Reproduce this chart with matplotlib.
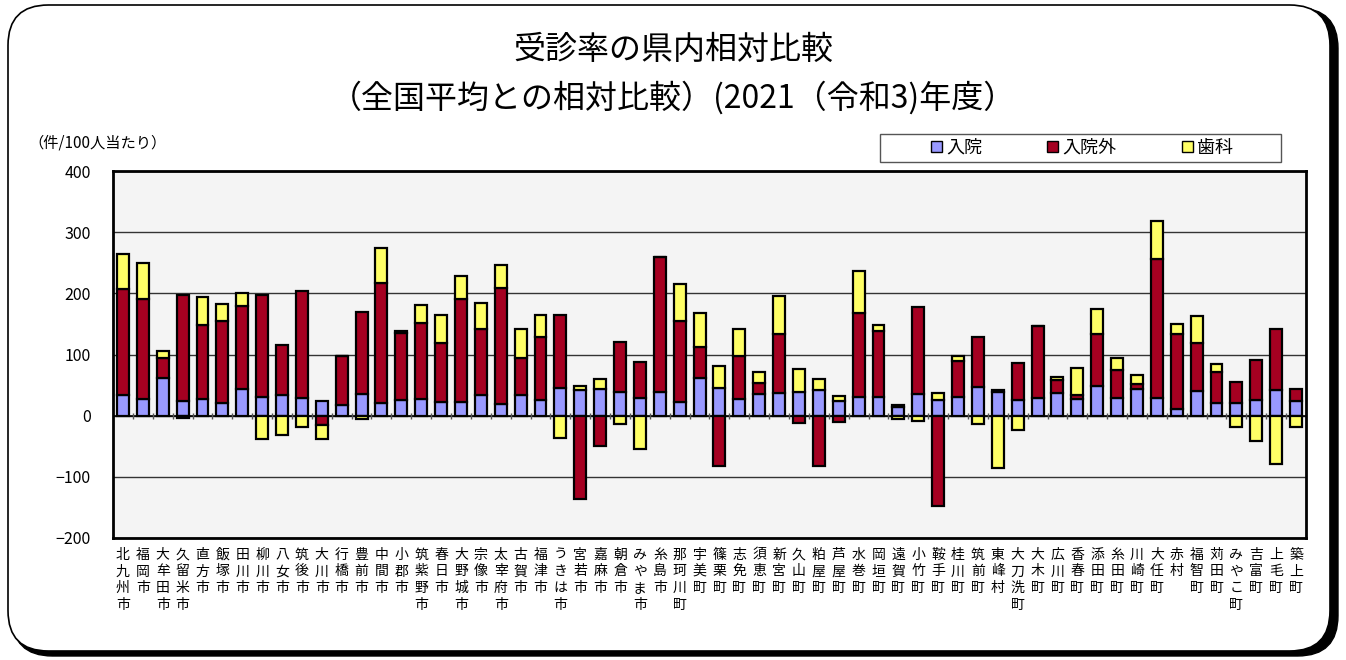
import numpy as np
import matplotlib
matplotlib.use('Agg')
import matplotlib.pyplot as plt
from matplotlib.patches import FancyBboxPatch, Patch, Rectangle

plt.rcParams['font.family'] = ['Noto Sans CJK JP', 'DejaVu Sans']

# 市町村名
towns = ['北九州市', '福岡市', '大牟田市', '久留米市', '直方市', '飯塚市', '田川市', '柳川市',
         '八女市', '筑後市', '大川市', '行橋市', '豊前市', '中間市', '小郡市', '筑紫野市',
         '春日市', '大野城市', '宗像市', '太宰府市', '古賀市', '福津市', 'うきは市', '宮若市',
         '嘉麻市', '朝倉市', 'みやま市', '糸島市', '那珂川町', '宇美町', '篠栗町', '志免町',
         '須恵町', '新宮町', '久山町', '粕屋町', '芦屋町', '水巻町', '岡垣町', '遠賀町',
         '小竹町', '鞍手町', '桂川町', '筑前町', '東峰村', '大刀洗町', '大木町', '広川町',
         '香春町', '添田町', '糸田町', '川崎町', '大任町', '赤村', '福智町', '苅田町',
         'みやこ町', '吉富町', '上毛町', '築上町']

# 全国平均との差（件/100人当たり）
inpatient = [34, 27, 62, 24, 28, 20, 43, 30, 34, 29, 24, 17, 36, 20, 26, 27,
             23, 22, 34, 19, 34, 26, 45, 42, 43, 38, 29, 38, 22, 61, 45, 27,
             35, 37, 39, 42, 24, 31, 31, 14, 35, 26, 30, 47, 38, 26, 29, 37,
             27, 48, 29, 44, 29, 11, 41, 20, 21, 26, 42, 24]
outpatient = [173, 163, 32, 174, 120, 134, 137, 167, 82, 174, -16, 80, 133, 197, 109, 125,
              95, 168, 108, 190, 60, 102, 119, -136, -49, 83, 58, 222, 132, 51, -83, 71,
              19, 97, -12, -82, -10, 137, 107, 3, 142, -147, 60, 82, 4, 60, 118, 22,
              7, 86, 46, 7, 227, 122, 77, 51, 34, 65, 100, 20]
dental = [57, 60, 11, -3, 46, 28, 20, -38, -31, -18, -22, 1, -5, 57, 4, 29,
          47, 38, 42, 37, 48, 36, -37, 6, 17, -14, -54, 0, 62, 56, 36, 44,
          17, 62, 38, 18, 8, 68, 10, -6, -9, 11, 8, -14, -85, -24, 0, 5,
          44, 40, 20, 15, 63, 17, 45, 13, -18, -42, -79, -18]

series = [('入院', inpatient, '#9999ff'),
          ('入院外', outpatient, '#a50021'),
          ('歯科', dental, '#ffff66')]

W, H = 1346, 660
fig = plt.figure(figsize=(W / 100, H / 100), dpi=100)

# 角丸の外枠（影付き）
shadow = FancyBboxPatch((12 / W, 4 / H), 1326 / W, 648 / H,
                        boxstyle='round,pad=0,rounding_size=0.03',
                        transform=fig.transFigure, facecolor='black',
                        edgecolor='black', zorder=-2, mutation_aspect=W / H)
frame = FancyBboxPatch((8 / W, 9 / H), 1322 / W, 646 / H,
                       boxstyle='round,pad=0,rounding_size=0.03',
                       transform=fig.transFigure, facecolor='white',
                       edgecolor='black', linewidth=1.2, zorder=-1,
                       mutation_aspect=W / H)
fig.patches.extend([shadow, frame])

ax = fig.add_axes([113 / W, 1 - 538 / H, 1193 / W, 367 / H])
ax.set_facecolor('#f4f4f4')

x = np.arange(len(towns))
pos_bottom = np.zeros(len(towns))
neg_bottom = np.zeros(len(towns))
for name, vals, color in series:
    v = np.array(vals, dtype=float)
    bottom = np.where(v >= 0, pos_bottom, neg_bottom)
    ax.bar(x, v, 0.6, bottom=bottom, color=color, edgecolor='black',
           linewidth=1.6, label=name, zorder=3)
    pos_bottom += np.where(v >= 0, v, 0)
    neg_bottom += np.where(v < 0, v, 0)

ax.set_xlim(-0.5, len(towns) - 0.5)
ax.set_ylim(-200, 400)
ax.set_yticks(np.arange(-200, 401, 100))
ax.grid(axis='y', color='#333333', linewidth=1.0, zorder=1)
ax.axhline(0, color='black', linewidth=1.2, zorder=2)
ax.plot(x[:-1] + 0.5, np.zeros(len(towns) - 1), linestyle='none', marker='|',
        markersize=5, color='#555555', zorder=2)

ax.set_xticks(x)
ax.set_xticklabels(['\n'.join(t) for t in towns], fontsize=10, linespacing=1.25,
                   va='top')
ax.tick_params(axis='x', length=0, pad=7)
ax.tick_params(axis='y', length=0, pad=16, labelsize=11.5)
for s in ax.spines.values():
    s.set_linewidth(2)

fig.text(0.5, 1 - 50 / H, '受診率の県内相対比較', ha='center', va='center', fontsize=23)
fig.text(0.5, 1 - 98 / H, '（全国平均との相対比較）(2021（令和3)年度）',
         ha='center', va='center', fontsize=23)
fig.text(28 / W, 1 - 143 / H, '（件/100人当たり）', ha='left', va='center', fontsize=11)

# 凡例の枠
fig.patches.append(Rectangle((880 / W, 1 - 162 / H), 401 / W, 28 / H,
                             transform=fig.transFigure, facecolor='white',
                             edgecolor='#555555', linewidth=1.0, zorder=1))
handles = [Patch(facecolor=c, edgecolor='black', label=n) for n, _, c in series]
fig.legend(handles=handles, loc='center', ncol=3,
           bbox_to_anchor=(1082 / W, 1 - 148 / H),
           fontsize=13, frameon=False, borderaxespad=0,
           handlelength=0.6, handleheight=0.6, handletextpad=0.25,
           columnspacing=3.6)

fig.savefig('out.png', dpi=100)
